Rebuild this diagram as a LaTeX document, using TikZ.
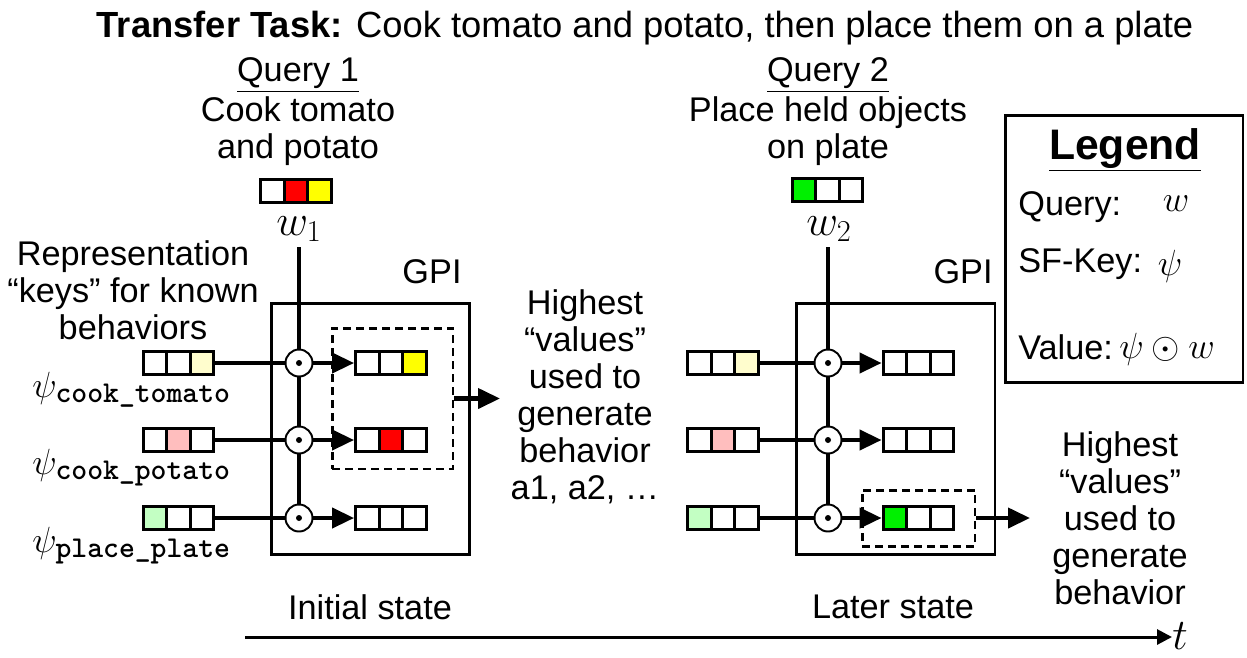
\documentclass[tikz,border=0pt]{standalone}
\usepackage{fontspec}
\setmainfont{Liberation Sans}
\newfontfamily\keytt{lmmonolt10-bold.otf}
\usetikzlibrary{arrows.meta}

\definecolor{hotred}{RGB}{255,0,0}
\definecolor{hotyellow}{RGB}{255,255,0}
\definecolor{hotgreen}{RGB}{0,240,0}
\definecolor{paleyellow}{RGB}{255,253,205}
\definecolor{palered}{RGB}{255,190,190}
\definecolor{palegreen}{RGB}{195,255,195}

\tikzset{
  cell/.style={draw, line width=1.8pt, minimum width=0.47cm, minimum height=0.46cm, inner sep=0pt},
  odot/.style={circle, draw, fill=white, line width=1.1pt, minimum size=0.54cm, inner sep=0pt},
  wire/.style={line width=2.3pt},
  feed/.style={wire, -{Triangle[length=0.44cm, width=0.4cm]}},
  timeline/.style={line width=1.7pt, -{Triangle[length=0.3cm, width=0.3cm]}},
  frame/.style={draw, line width=1.7pt, inner sep=0pt},
  hilite/.style={draw, line width=1.7pt, dash pattern=on 0.16cm off 0.1cm, inner sep=0pt},
  txt/.style={font=\fontsize{19.5}{21}\selectfont, align=center, inner sep=0pt},
  mathlbl/.style={font=\fontsize{24}{24}\selectfont, inner sep=0pt},
  keylbl/.style={font=\fontsize{21}{21}\selectfont, inner sep=0pt, anchor=base west},
  legmath/.style={font=\fontsize{21}{21}\selectfont, inner sep=0pt},
}

% three cells side by side: name, centre x, centre y, three fills
\newcommand\triplet[6]{%
  \node[cell, fill=#4] (#1-a) at (#2-23.6,#3) {};
  \node[cell, fill=#5] (#1-b) at (#2,#3) {};
  \node[cell, fill=#6] (#1-c) at (#2+23.6,#3) {};
}
% subscript name of a key
\newcommand\keyname[1]{\hbox{\fontsize{17.2}{18}\selectfont\keytt #1}}

\begin{document}
\begin{tikzpicture}[x=0.02cm, y=-0.02cm]
  \useasboundingbox (0,0) rectangle (1247,657);

  \node[font=\fontsize{20.7}{22}\selectfont, inner sep=0pt] (title) at (645,28)
    {\textbf{Transfer Task:} Cook tomato and potato, then place them on a plate};

  % ── initial state ──────────────────────────────────
  \begin{scope}
    \node[txt] (q1) at (298,75) {\underline{Query 1}};
    \node[txt] (q1text) at (298,131) {Cook tomato\\and potato};
    \triplet{w1v}{296}{191}{white}{hotred}{hotyellow}
    \node[mathlbl] (w1) at (299,229) {$w_1$};
    \coordinate (w1top) at (299,247);

    \node[txt] (keys) at (133,290) {Representation\\“keys” for known\\behaviors};

    \node[frame, minimum width=3.98cm, minimum height=5.04cm] (gpi1) at (370.5,429) {};
    \node[txt] (gpi1lbl) at (432,272) {GPI};
    \node[hilite, minimum width=2.42cm, minimum height=2.82cm] (best1) at (392.5,398.5) {};

    % keys, products and values, one row per behavior
    \foreach \r/\y/\fa/\fb/\fc/\ga/\gb/\gc in {%
        1/363/white/white/paleyellow/white/white/hotyellow,
        2/440/white/palered/white/white/hotred/white,
        3/518/palegreen/white/white/white/white/white} {
      \triplet{k\r}{178.5}{\y}{\fa}{\fb}{\fc}
      \node[odot] (o\r) at (299,\y) {};
      \fill (o\r.center) circle (0.06cm);
      \triplet{v\r}{391}{\y}{\ga}{\gb}{\gc}
      \draw[wire] (k\r-c) -- (o\r);
      \draw[feed] (o\r) -- (v\r-a);
    }
    \draw[wire] (w1top) -- (o1);
    \draw[wire] (o1) -- (o2);
    \draw[wire] (o2) -- (o3);

    \node[keylbl] (psi1) at (32,397) {$\psi_{\keyname{cook\_tomato}}$};
    \node[keylbl] (psi2) at (32,474) {$\psi_{\keyname{cook\_potato}}$};
    \node[keylbl] (psi3) at (32,552) {$\psi_{\keyname{place\_plate}}$};

    \coordinate (out1) at (500,398.5);
    \draw[feed] (best1) -- (out1);
    \node[txt] (val1) at (585,397) {Highest\\“values”\\used to\\generate\\behavior\\a1, a2, …};

    \node[txt] (init) at (370,607) {Initial state};
  \end{scope}

  % ── later state ────────────────────────────────────
  \begin{scope}
    \node[txt] (q2) at (828,75) {\underline{Query 2}};
    \node[txt] (q2text) at (828,131) {Place held objects\\on plate};
    \triplet{w2v}{827.5}{190}{hotgreen}{white}{white}
    \node[mathlbl] (w2) at (829,229) {$w_2$};
    \coordinate (w2top) at (828,247);

    \node[frame, minimum width=3.98cm, minimum height=5.04cm] (gpi2) at (895.5,429) {};
    \node[txt] (gpi2lbl) at (963,272) {GPI};
    \node[hilite, minimum width=2.26cm, minimum height=1.12cm] (best2) at (918.5,518) {};

    \foreach \r/\y/\fa/\fb/\fc/\ga/\gb/\gc in {%
        1/363/white/white/paleyellow/white/white/white,
        2/440/white/palered/white/white/white/white,
        3/518/palegreen/white/white/hotgreen/white/white} {
      \triplet{kk\r}{723}{\y}{\fa}{\fb}{\fc}
      \node[odot] (oo\r) at (828,\y) {};
      \fill (oo\r.center) circle (0.06cm);
      \triplet{vv\r}{918.5}{\y}{\ga}{\gb}{\gc}
      \draw[wire] (kk\r-c) -- (oo\r);
      \draw[feed] (oo\r) -- (vv\r-a);
    }
    \draw[wire] (w2top) -- (oo1);
    \draw[wire] (oo1) -- (oo2);
    \draw[wire] (oo2) -- (oo3);

    \coordinate (out2) at (1030,518);
    \draw[feed] (best2) -- (out2);
    \node[txt] (val2) at (1120,518) {Highest\\“values”\\used to\\generate\\behavior};

    \node[txt] (later) at (893,607) {Later state};
  \end{scope}

  % ── legend ─────────────────────────────────────────
  \node[frame, minimum width=4.76cm, minimum height=5.36cm] (legend) at (1124,249) {};
  \node[font=\fontsize{24.3}{26}\selectfont\bfseries, inner sep=0pt] (legtitle) at (1125,150) {\underline{Legend}};
  \node[txt, anchor=west] (lq) at (1018,207) {Query:};
  \node[legmath] (lqw) at (1176,204) {$w$};
  \node[txt, anchor=west] (lk) at (1018,264) {SF-Key:};
  \node[legmath] (lkp) at (1170,266) {$\psi$};
  \node[txt, anchor=west] (lv) at (1018,347) {Value:};
  \node[legmath, anchor=west, font=\fontsize{22}{22}\selectfont] (lvm) at (1119,349) {$\psi\odot w$};

  % ── time axis ──────────────────────────────────────
  \coordinate (t0) at (245,637);
  \node[mathlbl, anchor=west] (tlbl) at (1172,636) {$t$};
  \draw[timeline] (t0) -- (tlbl.west |- t0);
\end{tikzpicture}
\end{document}
